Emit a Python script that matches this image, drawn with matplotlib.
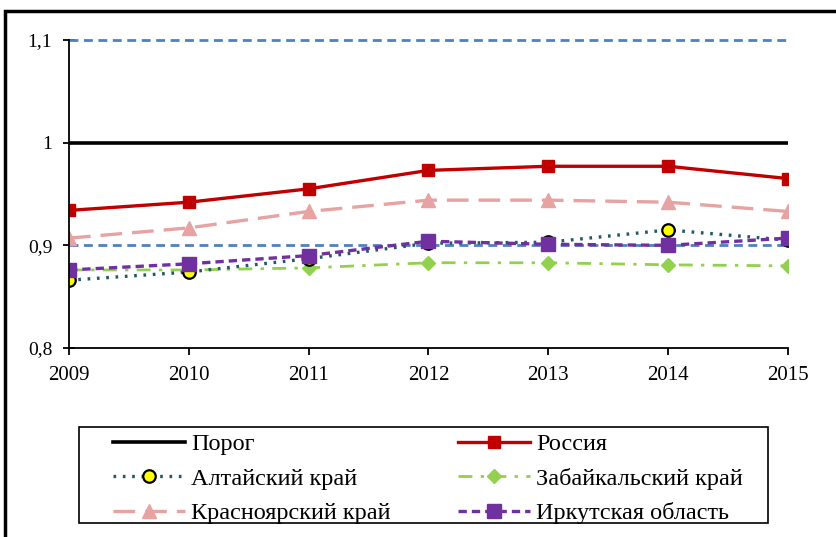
import matplotlib
matplotlib.use("Agg")
import matplotlib.pyplot as plt
from matplotlib.patches import Rectangle

plt.rcParams["font.family"] = ["Liberation Serif", "DejaVu Serif"]

years = [2009, 2010, 2011, 2012, 2013, 2014, 2015]
threshold = [1.0] * len(years)
upper_ref = [1.1] * len(years)
lower_ref = [0.9] * len(years)
russia = [0.934, 0.942, 0.955, 0.973, 0.977, 0.977, 0.965]
altai = [0.866, 0.874, 0.887, 0.902, 0.903, 0.915, 0.905]
zabaikal = [0.876, 0.876, 0.878, 0.883, 0.883, 0.881, 0.880]
krasnoyarsk = [0.907, 0.917, 0.933, 0.944, 0.944, 0.942, 0.933]
irkutsk = [0.876, 0.882, 0.890, 0.904, 0.901, 0.900, 0.907]

fig = plt.figure(figsize=(8.36, 5.37), dpi=100)
ax = fig.add_axes([0.0825, 0.352, 0.8601, 0.5735])

ref_style = dict(color="#4F81BD", lw=2.0, ls=(0, (3.2, 2.0)), clip_on=False)
ax.plot(years, upper_ref, **ref_style)
ax.plot(years, lower_ref, **ref_style)

h_thr, = ax.plot(years, threshold, color="black", lw=2.6, label="Порог")
h_rus, = ax.plot(years, russia, color="#C00000", lw=2.4, marker="s", ms=9,
                 label="Россия")
h_kra, = ax.plot(years, krasnoyarsk, color="#E6A3A1", lw=2.4, ls=(0, (6.5, 3)),
                 marker="^", ms=10, label="Красноярский край")
h_zab, = ax.plot(years, zabaikal, color="#92D050", lw=2.0, ls=(0, (5, 3, 1.2, 3)),
                 marker="D", ms=7, label="Забайкальский край")
h_alt, = ax.plot(years, altai, color="#215968", lw=2.4, ls=(0, (0.8, 2.0)),
                 marker="o", ms=9, mfc="#FFFF00", mec="black", mew=1.6,
                 label="Алтайский край")
h_irk, = ax.plot(years, irkutsk, color="#7030A0", lw=2.4, ls=(0, (2.5, 1.5)),
                 marker="s", ms=10, label="Иркутская область")

ax.set_xlim(2009, 2015)
ax.set_ylim(0.8, 1.1)
ax.set_xticks(years)
ax.set_yticks([0.8, 0.9, 1.0, 1.1])
ax.set_yticklabels(["0,8", "0,9", "1", "1,1"])
ax.tick_params(axis="x", labelsize=15, length=5, width=1.3, direction="out", pad=8)
ax.tick_params(axis="y", labelsize=14, length=8, width=1.3, direction="inout", pad=8)
for side in ("top", "right"):
    ax.spines[side].set_visible(False)
for side in ("left", "bottom"):
    ax.spines[side].set_linewidth(1.3)
for lbl in ax.get_xticklabels() + ax.get_yticklabels():
    lbl.set_clip_on(False)

# legend drawn as two columns inside a hand-placed frame
leg_kw = dict(loc="upper left", fontsize=17.5, frameon=False, handlelength=2.96,
              handletextpad=0.25, borderpad=0, borderaxespad=0, labelspacing=0.52,
              bbox_transform=fig.transFigure)
left_handles = [h_thr, h_alt, h_kra]
right_handles = [h_rus, h_zab, h_irk]
fig.legend(handles=left_handles, labels=[h.get_label() for h in left_handles],
           bbox_to_anchor=(113 / 836, 1 - 433 / 537), **leg_kw)
fig.legend(handles=right_handles, labels=[h.get_label() for h in right_handles],
           bbox_to_anchor=(458 / 836, 1 - 433 / 537), **leg_kw)

fig.patches.append(Rectangle((79 / 836, 1 - 523 / 537), 689 / 836, 96 / 537,
                             transform=fig.transFigure, fill=False,
                             edgecolor="black", lw=1.2))
fig.patches.append(Rectangle((0.006, -0.05), 1.2, 1.0295, transform=fig.transFigure,
                             fill=False, edgecolor="black", lw=2.5))

fig.savefig("out.png", dpi=100)
